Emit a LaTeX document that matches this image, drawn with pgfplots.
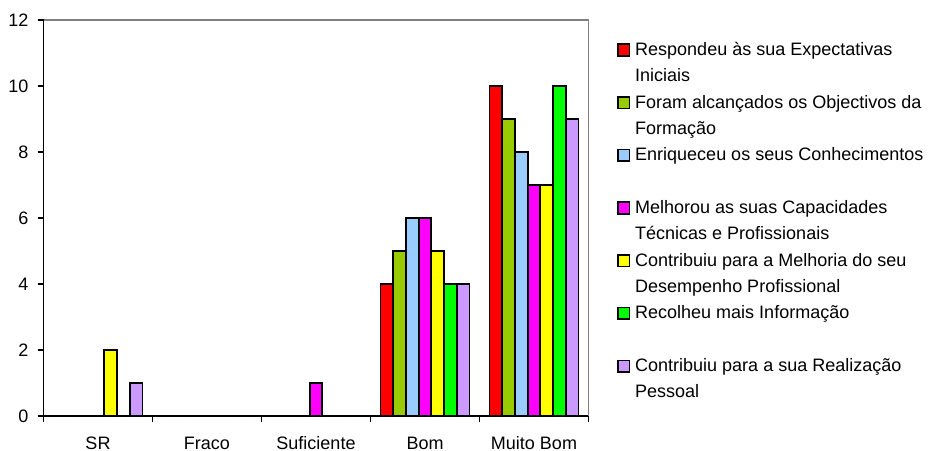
\documentclass[border=0pt]{standalone}
\usepackage{pgfplots}
\pgfplotsset{compat=1.18}
\usepackage{fontspec}
\setmainfont{Liberation Sans}
\definecolor{c1}{HTML}{FF0000}
\definecolor{c2}{HTML}{99CC00}
\definecolor{c3}{HTML}{99CCFF}
\definecolor{c4}{HTML}{FF00FF}
\definecolor{c5}{HTML}{FFFF00}
\definecolor{c6}{HTML}{00FF00}
\definecolor{c7}{HTML}{CC99FF}
\newcommand{\contline}[1]{\addlegendimage{empty legend}\addlegendentry{\strut #1}}
\begin{document}
\begin{tikzpicture}
\begin{axis}[
  at={(0,0)}, anchor=south west,
  scale only axis, width=272.5pt, height=198pt,
  ybar=0pt, bar width=6.35pt,
  xmin=-0.5, xmax=4.5, ymin=0, ymax=12,
  xtick={0,1,2,3,4},
  xticklabels={SR,Fraco,Suficiente,Bom,Muito Bom},
  minor xtick={-0.5,0.5,1.5,2.5,3.5,4.5},
  ytick={0,2,4,6,8,10,12},
  axis lines*=left,
  axis line style={line width=0.75pt, black},
  tick align=outside,
  major tick length=3pt, minor tick length=3pt,
  major x tick style={draw=none},
  minor x tick style={line width=0.75pt, black},
  y tick style={line width=0.75pt, black},
  /pgf/number format/assume math mode=true,
  tick label style={font=\fontsize{9}{11}\selectfont},
  yticklabel style={xshift=-1pt},
  xticklabel style={anchor=base, yshift=-13.5pt},
  legend cell align=left,
  legend style={draw=none, fill=none, at={(1.0523,0.9626)}, anchor=north west,
    inner sep=0pt, row sep=-0.375pt, column sep=0.5pt,
    font=\fontsize{9}{11.5}\selectfont,
    cells={anchor=base west, inner xsep=0pt, inner ysep=0pt}},
  legend image code/.code={\draw[#1, line width=0.8pt] (0pt,-0.2pt) rectangle (5.6pt,5.6pt);},
  after end axis/.code={\draw[line width=0.75pt, gray] (rel axis cs:0,1) -- (rel axis cs:1,1) -- (rel axis cs:1,0);},
]
\addplot[fill=c1, draw=black, line width=0.9pt] coordinates {(0,0) (1,0) (2,0) (3,4) (4,10)};
\addlegendentry{\strut Respondeu às sua Expectativas}
\contline{Iniciais}
\addplot[fill=c2, draw=black, line width=0.9pt] coordinates {(0,0) (1,0) (2,0) (3,5) (4,9)};
\addlegendentry{\strut Foram alcançados os Objectivos da}
\contline{Formação}
\addplot[fill=c3, draw=black, line width=0.9pt] coordinates {(0,0) (1,0) (2,0) (3,6) (4,8)};
\addlegendentry{\strut Enriqueceu os seus Conhecimentos}
\contline{}
\addplot[fill=c4, draw=black, line width=0.9pt] coordinates {(0,0) (1,0) (2,1) (3,6) (4,7)};
\addlegendentry{\strut Melhorou as suas Capacidades}
\contline{Técnicas e Profissionais}
\addplot[fill=c5, draw=black, line width=0.9pt] coordinates {(0,2) (1,0) (2,0) (3,5) (4,7)};
\addlegendentry{\strut Contribuiu para a Melhoria do seu}
\contline{Desempenho Profissional}
\addplot[fill=c6, draw=black, line width=0.9pt] coordinates {(0,0) (1,0) (2,0) (3,4) (4,10)};
\addlegendentry{\strut Recolheu mais Informação}
\contline{}
\addplot[fill=c7, draw=black, line width=0.9pt] coordinates {(0,1) (1,0) (2,0) (3,4) (4,9)};
\addlegendentry{\strut Contribuiu para a sua Realização}
\contline{Pessoal}
\end{axis}
\pgfresetboundingbox
\path[use as bounding box] (-21.75pt,-17pt) rectangle (443.25pt,208pt);
\end{tikzpicture}
\end{document}
